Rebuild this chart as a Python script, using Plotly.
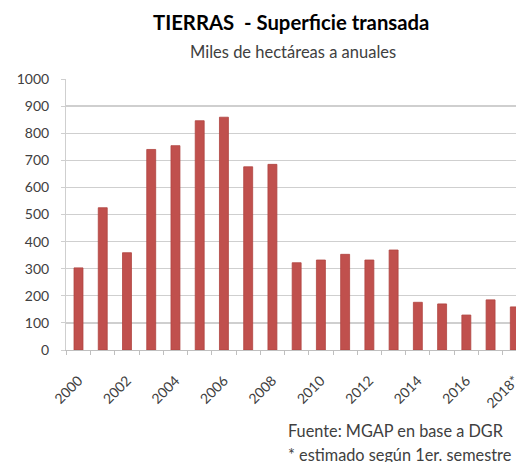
import plotly.graph_objects as go

years = list(range(2000, 2019))
values = [303, 525, 359, 740, 754, 846, 859, 676, 685, 322, 332, 353, 332, 369, 176, 170, 129, 185, 159]
tick_years = [2000, 2002, 2004, 2006, 2008, 2010, 2012, 2014, 2016, 2018]
tick_labels = ["2000", "2002", "2004", "2006", "2008", "2010", "2012", "2014", "2016", "2018*"]

FONT = "Lato"
TXT = "#404040"

W, H = 516, 462
L, T, B, R = 66, 79, 112, 0
PW, PH = W - L - R, H - T - B

def px(sx):
    return (sx - L) / PW

def py(sy):
    return (H - B - sy) / PH

step = 24.24
x0 = 2000 - (78.5 - L) / step
x1 = x0 + PW / step

fig = go.Figure(go.Bar(
    x=years, y=values, width=0.37,
    marker=dict(color="#C0504D", line=dict(color="#B04440", width=0.8)),
))

anns = [
    dict(text="<b>TIERRAS  - Superficie transada</b>", x=px(151), y=py(22),
         xanchor="left", font=dict(size=20.3, color="black")),
    dict(text="Miles de hectáreas a anuales", x=px(293), y=py(52),
         xanchor="center", font=dict(size=16.5, color=TXT)),
    dict(text="Fuente: MGAP en base a DGR", x=px(286), y=py(430),
         xanchor="left", font=dict(size=16.3, color=TXT)),
    dict(text="* estimado según 1er. semestre", x=px(286), y=py(454),
         xanchor="left", font=dict(size=16.3, color=TXT)),
]
for a in anns:
    a.update(showarrow=False, xref="paper", yref="paper", yanchor="middle")
    a["font"]["family"] = FONT

fig.update_layout(
    width=W, height=H,
    margin=dict(l=L, r=R, t=T, b=B, autoexpand=False),
    paper_bgcolor="white", plot_bgcolor="white",
    showlegend=False,
    font=dict(family=FONT, color=TXT, size=14),
    xaxis=dict(
        range=[x0, x1],
        tickmode="array", tickvals=tick_years, ticktext=tick_labels,
        tickangle=-45, ticks="", showgrid=False,
        showline=True, linecolor="#bfbfbf", linewidth=1,
        tickfont=dict(size=14, color=TXT),
        ticklabelstandoff=16, ticklabeloverflow="allow",
        minor=dict(ticks="outside", tick0=1999.5, dtick=1, ticklen=4,
                   tickcolor="#bfbfbf", showgrid=False),
        fixedrange=True,
    ),
    yaxis=dict(
        range=[0, 1000], dtick=100, tick0=0,
        showgrid=True, gridcolor="#cfcfcf", gridwidth=1.4,
        ticks="outside", ticklen=4, tickcolor="#cfcfcf",
        showline=True, linecolor="#cfcfcf", linewidth=1,
        tickfont=dict(size=14, color=TXT),
        ticklabelstandoff=9,
        zeroline=False,
        fixedrange=True,
    ),
    annotations=anns,
)

fig.write_html(
    "out.html",
    config={"displayModeBar": False, "staticPlot": True},
    post_script="document.body.style.margin='0';document.body.style.overflow='hidden';",
)
